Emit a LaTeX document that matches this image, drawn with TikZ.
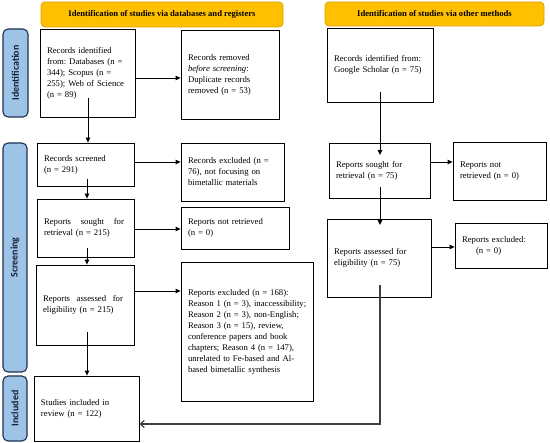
\documentclass[tikz,border=0pt]{standalone}
\usepackage{fontspec}
\setmainfont{Liberation Serif}
\newfontfamily\labelfont{Carlito}
\usetikzlibrary{arrows.meta}
\definecolor{sideblue}{HTML}{9DC3E6}
\definecolor{sideedge}{HTML}{1F2F4F}
\definecolor{gold}{HTML}{FFC000}
\definecolor{goldedge}{HTML}{D9A000}
\begin{document}
\begin{tikzpicture}[x=1pt,y=-1pt,
  every node/.style={font=\fontsize{8.7}{11}\selectfont},
  box/.style={draw=black, line width=0.8pt, inner xsep=7pt, inner ysep=0pt, align=left},
  sidelab/.style={draw=sideedge, fill=sideblue, line width=1.1pt, rounded corners=5pt, inner sep=0pt,
    font=\labelfont\bfseries\fontsize{10}{12}\selectfont, text=sideedge!70!black},
  banner/.style={draw=goldedge, fill=gold, line width=0.8pt, rounded corners=4pt, inner sep=0pt,
    font=\bfseries\fontsize{8.6}{10}\selectfont},
  arr/.style={line width=0.9pt, -{Triangle[length=5pt,width=4.5pt]}},
  retarr/.style={line width=1.2pt, draw=black!75, -{Straight Barb[length=4pt,width=7pt]}}]
\useasboundingbox (0,0) rectangle (550,443);

% banners
\node[banner, minimum width=242pt, minimum height=25pt] (BL) at (162,14.5) {Identification of studies via databases and registers};
\node[banner, minimum width=219pt, minimum height=24pt] (BR) at (434.5,14) {Identification of studies via other methods};

% side labels
\node[sidelab, minimum width=25pt, minimum height=88pt] (S1) at (15.5,73) {\rotatebox{90}{Identification}};
\node[sidelab, minimum width=24pt, minimum height=229pt] (S2) at (15,257.5) {\rotatebox{90}{Screening}};
\node[sidelab, minimum width=24pt, minimum height=65pt] (S3) at (15,408.5) {\rotatebox{90}{Included}};

% left column
\node[box, text width=81pt, minimum height=88pt] (A) at (87.5,73) {Records identified\\from:\ Databases (n =\\344); Scopus (n =\\255); Web of Science\\(n = 89)};
\node[box, text width=84pt, minimum height=89pt] (B) at (230,74.5) {Records removed\\\textit{before screening}:\\Duplicate records\\removed (n = 53)\\[3pt]};
\node[box, text width=83pt, minimum height=43pt] (D) at (85.5,164.5) {Records screened\\(n = 291)\\[3pt]};
\node[box, text width=89pt, minimum height=58pt] (E) at (232.5,172) {Records excluded (n =\\76), not focusing on\\bimetallic materials};
\node[box, text width=83pt, minimum height=58pt] (F) at (85.5,228) {\makebox[80pt][l]{Reports\hfill sought\hfill for}\\retrieval (n = 215)};
\node[box, text width=94pt, minimum height=42pt] (G) at (235,228) {Reports not retrieved\\(n = 0)};
\node[box, text width=84pt, minimum height=80pt] (H) at (85,305) {\makebox[80pt][l]{Reports\hfill assessed\hfill for}\\eligibility (n = 215)};
\node[box, text width=118pt, minimum height=139pt] (I) at (247,331.5) {Reports excluded (n = 168):\\\mbox{Reason 1 (n = 3), inaccessibility;}\\Reason 2 (n = 3), non-English;\\Reason 3 (n = 15), review,\\conference papers and book\\chapters; Reason 4 (n = 147),\\unrelated to Fe-based and Al-\\based bimetallic synthesis};
\node[box, text width=91pt, minimum height=65pt] (J) at (86.5,408.5) {Studies included in\\review (n = 122)};

% right column
\node[box, text width=92pt, minimum height=74pt] (C) at (380,65) {Records identified from:\\Google Scholar (n = 75)\\[8pt]};
\node[box, text width=87pt, minimum height=55pt] (K) at (379.5,170.5) {Reports sought for\\retrieval (n = 75)};
\node[box, text width=79pt, minimum height=58pt] (L) at (499.5,171) {Reports not\\retrieved (n = 0)};
\node[box, text width=90pt, minimum height=78pt] (M) at (379,258) {Reports assessed for\\eligibility (n = 75)};
\node[box, text width=78pt, minimum height=45pt] (N) at (501,245.5) {Reports excluded:\\\hspace*{14pt}(n = 0)\\[8pt]};

% connector start points
\coordinate (a1) at (88,98);
\coordinate (a4) at (87,179);
\coordinate (a6) at (87,248);
\coordinate (a8) at (87,332);
\coordinate (b1) at (380,92);
\coordinate (b1e) at (380,155);
\coordinate (b3) at (380,187);
\coordinate (b3e) at (380,225);
\coordinate (b5) at (380,285);
\coordinate (b5c) at (380,424);

% left connectors
\draw[arr] (a1) -- (a1 |- D.north);
\draw[arr] (A.east |- 0,78) -- (B.west |- 0,78);
\draw[arr] (D.east |- 0,162) -- (E.west |- 0,162);
\draw[arr] (a4) -- (a4 |- F.north);
\draw[arr] (F.east |- 0,229) -- (G.west |- 0,229);
\draw[arr] (a6) -- (a6 |- H.north);
\draw[arr] (H.east |- 0,291) -- (I.west |- 0,291);
\draw[arr] (a8) -- (a8 |- J.north);

% right connectors
\draw[arr] (b1) -- (b1e);
\draw[arr] (K.east |- 0,162) -- (L.west |- 0,162);
\draw[arr] (b3) -- (b3e);
\draw[arr] (M.east |- 0,247) -- (N.west |- 0,247);
\draw[retarr] (b5) -- (b5c) -- (J.east |- b5c);
\end{tikzpicture}
\end{document}
